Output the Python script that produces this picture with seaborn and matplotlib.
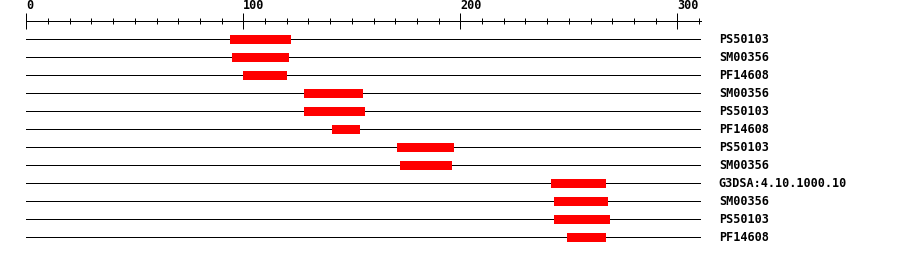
import matplotlib
matplotlib.use("Agg")
import matplotlib.pyplot as plt
import numpy as np
import seaborn as sns

# ---- data ----
labels = ["PS50103", "SM00356", "PF14608", "SM00356", "PS50103", "PF14608",
          "PS50103", "SM00356", "G3DSA:4.10.1000.10", "SM00356", "PS50103", "PF14608"]
starts = [94, 95, 100, 128, 128, 141, 171, 172, 242, 243, 243, 249]
ends = [122, 121, 120, 155, 156, 154, 197, 196, 267, 268, 269, 267]
seq_length = 311
major_ticks = [0, 100, 200, 300]
minor_step = 10

sns.set_theme(style="white")
plt.rcParams["font.family"] = ["DejaVu Sans Mono", "DejaVu Sans"]
plt.rcParams["lines.antialiased"] = False
plt.rcParams["patch.antialiased"] = False

W, H = 900, 256
fig = plt.figure(figsize=(W / 100, H / 100), dpi=100)
x0_px = 26.3
px_per_unit = 2.17
ax = fig.add_axes([x0_px / W, 0, seq_length * px_per_unit / W, 1])

n = len(labels)
rows = np.arange(n)
row0_px, row_step = 39.2, 18.0
ax.set_xlim(0, seq_length)
ax.set_ylim((H - row0_px) / row_step, -row0_px / row_step)

lw = 0.72
# backbone lines
ax.hlines(rows, 0, seq_length, color="black", lw=lw, zorder=1)
# domains
ax.barh(rows, np.array(ends) - np.array(starts), left=starts, height=0.5,
        color="#ff0000", edgecolor="none", zorder=2)

# ruler on top spine
for s in ["left", "right", "bottom"]:
    ax.spines[s].set_visible(False)
ax.spines["top"].set_position(("data", -1.0))
ax.spines["top"].set_color("black")
ax.spines["top"].set_linewidth(lw)
ax.xaxis.tick_top()
ax.set_xticks(major_ticks)
ax.set_xticks([t for t in np.arange(0, seq_length, minor_step) if t not in major_ticks], minor=True)
ax.tick_params(axis="x", which="major", direction="inout", length=11.5, width=lw,
               color="black", pad=1, labelsize=8.5, labelcolor="black")
ax.tick_params(axis="x", which="minor", direction="inout", length=5.0, width=lw,
               color="black")
for t in ax.get_xticklabels():
    t.set_horizontalalignment("left")
    t.set_fontweight("bold")

# row labels on the right
ax.yaxis.tick_right()
ax.set_yticks(rows)
ax.set_yticklabels(labels, fontsize=8.5, fontweight="bold", color="black", va="center")
ax.tick_params(axis="y", length=0, pad=12.7)
ax.set_facecolor("white")
ax.grid(False)

fig.savefig("out.png", dpi=100, facecolor="white")
